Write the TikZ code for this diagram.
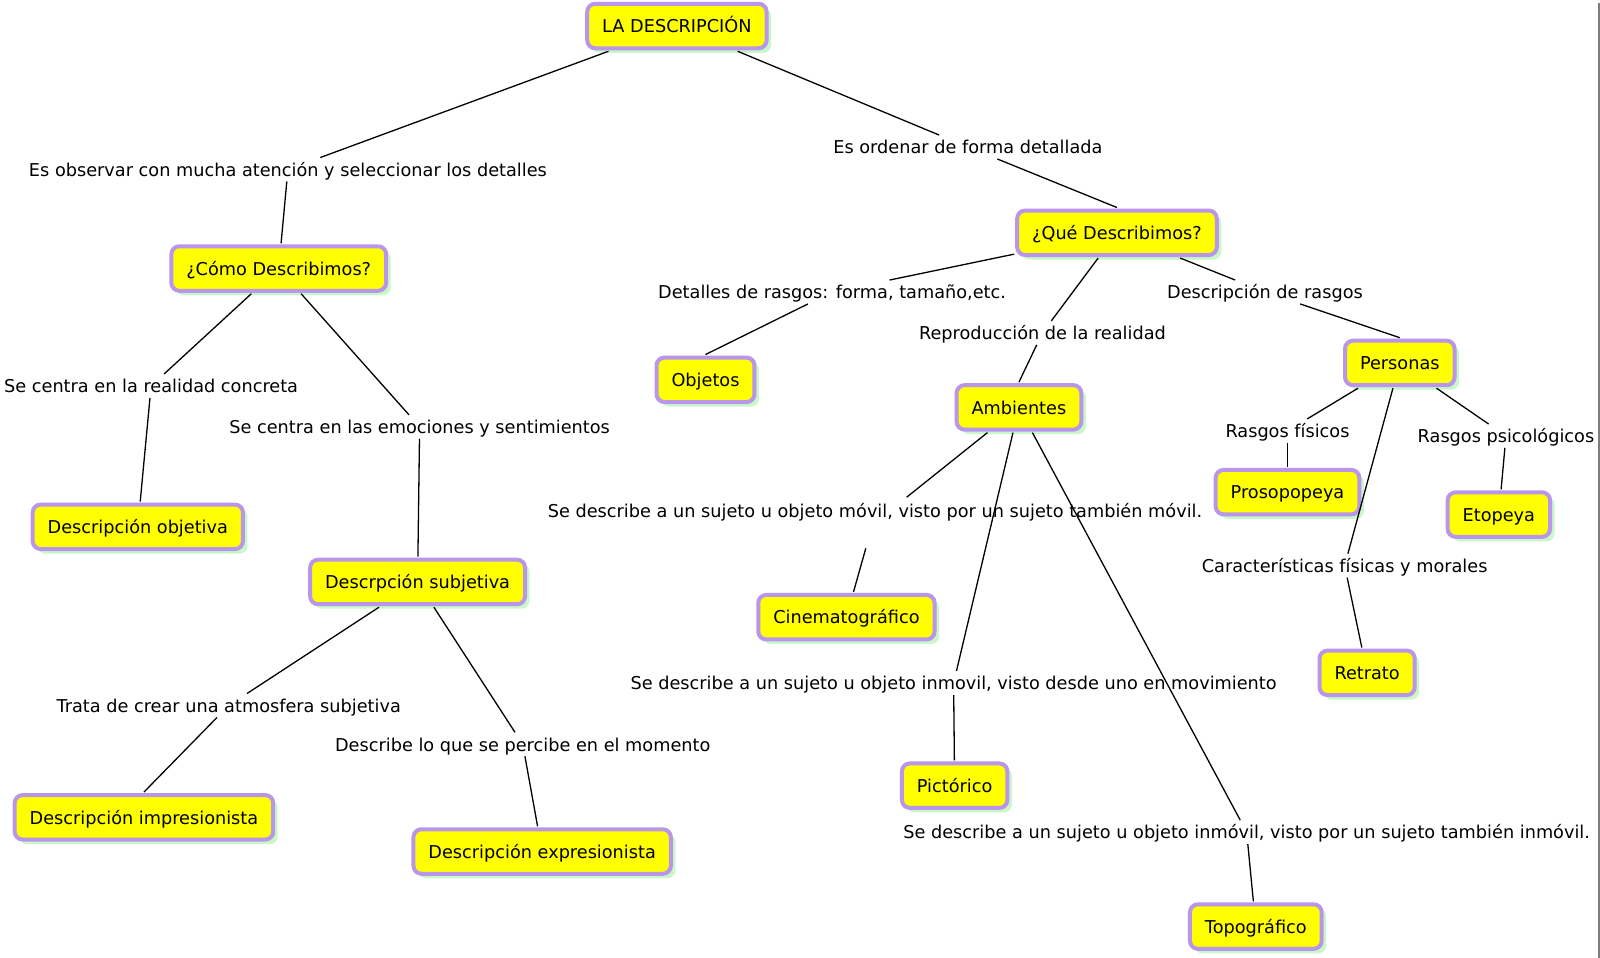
\documentclass[tikz,border=0pt]{standalone}
\usepackage{fontspec}
\setmainfont{DejaVu Sans}
\usetikzlibrary{shadows}
\definecolor{boxborder}{RGB}{185,150,235}
\definecolor{boxshadow}{RGB}{200,248,200}
\definecolor{boxfill}{RGB}{255,255,0}
\definecolor{edgegray}{RGB}{125,125,125}
\begin{document}
\begin{tikzpicture}[x=1.021pt,y=-1.021pt,
  concept/.style={draw=boxborder, line width=4pt, fill=boxfill, rounded corners=8pt,
    inner xsep=15pt, inner ysep=13.5pt, text height=15.5pt, text depth=2pt, outer sep=3pt,
    font=\fontsize{17.7}{20}\selectfont,
    drop shadow={fill=boxshadow, opacity=1, shadow xshift=4.5pt, shadow yshift=-4.5pt}},
  linklabel/.style={inner sep=3pt, text height=15.5pt, text depth=2pt, font=\fontsize{17.7}{20}\selectfont},
  link/.style={draw=black, line width=1.3pt}]
\useasboundingbox (0,0) rectangle (1567.1,938.3);
\fill[white] (0,0) rectangle (1567.1,938.3);
\draw[edgegray, line width=1.5pt] (1566,3) coordinate (gtop) -- (1566,938.3) coordinate (gbot);

% concepts
\node[concept] (la) at (663,25.5) {LA DESCRIPCIÓN};
\node[concept] (como) at (273,263) {¿Cómo Describimos?};
\node[concept] (que) at (1094,228) {¿Qué Describimos?};
\node[concept] (obj) at (691,372) {Objetos};
\node[concept] (amb) at (998,399) {Ambientes};
\node[concept] (per) at (1371,355.5) {Personas};
\node[concept] (pros) at (1261,482) {Prosopopeya};
\node[concept] (eto) at (1468,504) {Etopeya};
\node[concept] (ret) at (1339,659) {Retrato};
\node[concept] (dobj) at (135,516) {Descripción objetiva};
\node[concept] (dsub) at (409,570) {Descrpción subjetiva};
\node[concept] (cine) at (829,604.5) {Cinematográfico};
\node[concept] (pict) at (935,769.5) {Pictórico};
\node[concept] (topo) at (1230,907.5) {Topográfico};
\node[concept] (dimp) at (141,800.5) {Descripción impresionista};
\node[concept] (dexp) at (531,834) {Descripción expresionista};

% link labels
\node[linklabel] (lobs) at (282,166) {Es observar con mucha atención y seleccionar los detalles};
\node[linklabel] (lord) at (948,144) {Es ordenar de forma detallada};
\node[linklabel] (ldet) at (815,286) {Detalles de rasgos: forma, tamaño,etc.};
\node[linklabel] (lrep) at (1021,326) {Reproducción de la realidad};
\node[linklabel] (ldes) at (1239,286) {Descripción de rasgos};
\node[linklabel] (lcon) at (148,378) {Se centra en la realidad concreta};
\node[linklabel] (lemo) at (411,418) {Se centra en las emociones y sentimientos};
\node[linklabel] (lfis) at (1261,422) {Rasgos físicos};
\node[linklabel] (lpsi) at (1475,427) {Rasgos psicológicos};
\node[linklabel] (lmov) at (857,500) {Se describe a un sujeto u objeto móvil, visto por un sujeto también móvil.};
\node[linklabel] (lcar) at (1317,554) {Características físicas y morales};
\node[linklabel] (lenm) at (934,669) {Se describe a un sujeto u objeto inmovil, visto desde uno en movimiento};
\node[linklabel] (latm) at (224,691) {Trata de crear una atmosfera subjetiva};
\node[linklabel] (lper) at (512,729) {Describe lo que se percibe en el momento};
\node[linklabel] (linm) at (1221,815) {Se describe a un sujeto u objeto inmóvil, visto por un sujeto también inmóvil.};

% free ends
\coordinate (lmovt) at (888,487);
\coordinate (lmovb) at (848,537);

% connectors
\draw[link] (la) -- (lobs);
\draw[link] (lobs) -- (como);
\draw[link] (la) -- (lord);
\draw[link] (lord) -- (que.north);
\draw[link] (que) -- (ldet);
\draw[link] (ldet) -- (obj.north);
\draw[link] (que) -- (lrep);
\draw[link] (lrep) -- (amb.north);
\draw[link] (que) -- (ldes);
\draw[link] (ldes) -- (per.north);
\draw[link] (como) -- (lcon);
\draw[link] (lcon) -- (dobj);
\draw[link] (como) -- (lemo);
\draw[link] (lemo) -- (dsub);
\draw[link] (dsub) -- (latm);
\draw[link] (latm) -- (dimp.north);
\draw[link] (dsub) -- (lper);
\draw[link] (lper) -- (dexp);
\draw[link] (per) -- (lfis);
\draw[link] (lfis) -- (pros);
\draw[link] (per) -- (lpsi);
\draw[link] (lpsi) -- (eto);
\draw[link] (per) -- (lcar);
\draw[link] (lcar) -- (ret);
\draw[link] (amb) -- (lmovt);
\draw[link] (lmovb) -- (cine);
\draw[link] (amb) -- (lenm);
\draw[link] (lenm) -- (pict);
\draw[link] (amb) -- (linm);
\draw[link] (linm) -- (topo);
\end{tikzpicture}
\end{document}
